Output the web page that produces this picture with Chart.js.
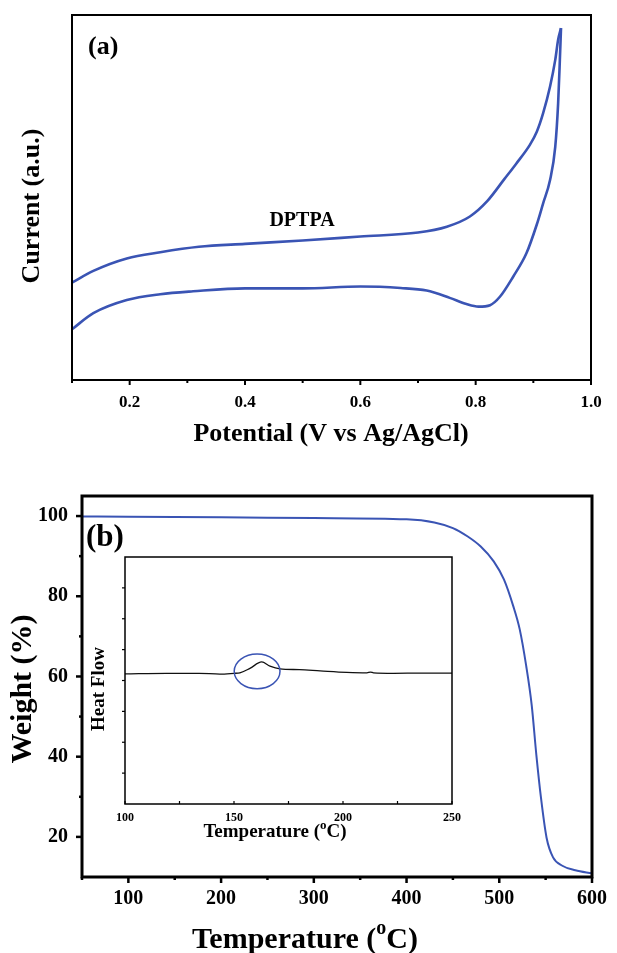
<!DOCTYPE html>
<html>
<head>
<meta charset="utf-8">
<script src="https://cdn.jsdelivr.net/npm/chart.js@4.4.0/dist/chart.umd.min.js"></script>
<style>
  html, body { margin: 0; padding: 0; background: #fff; }
  #page { position: relative; width: 617px; height: 953px; overflow: hidden; }
  .box { position: absolute; }
</style>
</head>
<body>
<div id="page">
  <div class="box" style="left:0;top:0;width:617px;height:460px"><canvas id="cv"></canvas></div>
  <div class="box" style="left:0;top:470px;width:617px;height:483px"><canvas id="tga"></canvas></div>
  <div class="box" style="left:80px;top:540px;width:390px;height:310px"><canvas id="dsc"></canvas></div>
</div>
<script>
'use strict';

const SERIF = '"Liberation Serif", "Times New Roman", serif';
const BLUE = '#3a54b4';

// (a) cyclic voltammogram, current in arbitrary units
const cvForwardV = [0.1, 0.137, 0.195, 0.253, 0.32, 0.4, 0.5, 0.6, 0.7, 0.75, 0.79, 0.82, 0.85, 0.87, 0.894, 0.906, 0.917, 0.929, 0.938, 0.943, 0.948];
const cvForwardI = [26.7, 29.9, 33.3, 35.0, 36.5, 37.3, 38.2, 39.3, 40.4, 42.0, 44.8, 49.0, 55.1, 59.2, 64.4, 68.0, 73.1, 80.4, 87.7, 93.2, 96.4];
const cvReverseV = [0.948, 0.946, 0.943, 0.938, 0.929, 0.917, 0.906, 0.888, 0.865, 0.842, 0.825, 0.805, 0.784, 0.755, 0.715, 0.67, 0.6, 0.5, 0.4, 0.31, 0.253, 0.195, 0.137, 0.1];
const cvReverseI = [96.4, 87.7, 75.8, 63.9, 54.8, 48.4, 42.6, 34.7, 28.3, 22.8, 20.5, 20.1, 20.8, 22.5, 24.5, 25.2, 25.6, 25.1, 25.1, 24.3, 23.5, 21.9, 18.3, 13.9];

// (b) TGA weight loss
const tgaTemp = [50, 100, 200, 300, 400, 430, 450, 466, 480, 494, 505, 515, 522, 529, 535, 540, 545, 551, 558, 568, 582, 600];
const tgaWeight = [99.9, 99.8, 99.7, 99.5, 99.2, 98.4, 97.0, 94.9, 92.4, 88.7, 84.2, 77.6, 71.8, 62.7, 52.8, 40.4, 29.7, 19.8, 14.9, 12.8, 11.7, 10.9];

// inset: DSC heat flow (arbitrary units)
const dscTemp = [100, 119, 134, 143.5, 150, 152.7, 157.3, 162.7, 166.5, 171.1, 180, 189.5, 201.7, 211, 212.6, 214, 223.2, 236, 250];
const dscFlow = [52.7, 52.9, 52.9, 52.6, 52.9, 53.1, 54.9, 57.5, 55.8, 54.7, 54.4, 53.9, 53.3, 53.1, 53.4, 53.1, 52.9, 53.0, 53.0];
// circled transition
const dscMark = { t: 160.6, v: 53.7, dt: 10.5, dv: 7.0 };

const pts = (xs, ys) => xs.map((x, i) => ({ x: x, y: ys[i] }));

function drawText(ctx, item) {
  const size = item.size;
  const parts = Array.isArray(item.text) ? item.text : [{ t: item.text }];
  const fontFor = p => 'bold ' + (p.sup ? Math.round(size * 0.68) : size) + 'px ' + SERIF;
  ctx.save();
  ctx.translate(item.x, item.y);
  if (item.rotate) ctx.rotate(item.rotate * Math.PI / 180);
  ctx.fillStyle = '#000';
  ctx.textBaseline = 'middle';
  ctx.textAlign = 'left';
  let total = 0;
  parts.forEach(p => { ctx.font = fontFor(p); total += ctx.measureText(p.t).width; });
  let x = item.align === 'left' ? 0 : -total / 2;
  parts.forEach(p => {
    ctx.font = fontFor(p);
    ctx.fillText(p.t, x, p.sup ? -size * 0.36 : 0);
    x += ctx.measureText(p.t).width;
  });
  ctx.restore();
}

// box around the plot, tick marks (long where a label is shown) and free text
const frame = {
  id: 'frame',
  afterDatasetsDraw(chart, args, o) {
    const { ctx, chartArea: a } = chart;
    ctx.save();
    ctx.strokeStyle = '#000';
    ctx.lineWidth = o.width;
    ctx.strokeRect(a.left, a.top, a.right - a.left, a.bottom - a.top);
    ctx.lineWidth = o.tickWidth;
    Object.keys(o.ticks || {}).forEach(id => {
      const s = chart.scales[id];
      const t = o.ticks[id];
      s.ticks.forEach(tk => {
        if (t.skipEnds && (tk.value <= s.min || tk.value >= s.max)) return;
        const len = (tk.label !== '' ? t.major : t.minor) * (t.inward ? -1 : 1);
        const p = s.getPixelForValue(tk.value);
        ctx.beginPath();
        if (s.isHorizontal()) {
          ctx.moveTo(p, a.bottom);
          ctx.lineTo(p, a.bottom + len);
        } else {
          ctx.moveTo(a.left, p);
          ctx.lineTo(a.left - len, p);
        }
        ctx.stroke();
      });
    });
    if (o.ring) {
      const x = chart.scales.x, y = chart.scales.y, r = o.ring;
      const cx = x.getPixelForValue(r.t), cy = y.getPixelForValue(r.v);
      ctx.strokeStyle = BLUE;
      ctx.lineWidth = 1.5;
      ctx.beginPath();
      ctx.ellipse(cx, cy,
        Math.abs(x.getPixelForValue(r.t + r.dt) - cx),
        Math.abs(y.getPixelForValue(r.v + r.dv) - cy), 0, 0, Math.PI * 2);
      ctx.stroke();
    }
    (o.labels || []).forEach(item => drawText(ctx, item));
    ctx.restore();
  }
};

const tickFont = size => ({ family: SERIF, size: size, weight: 'bold' });
const bare = { grid: { display: false, drawTicks: false }, border: { display: false } };

function baseOptions(padding) {
  return {
    responsive: true,
    maintainAspectRatio: false,
    animation: false,
    devicePixelRatio: 1,
    layout: { padding: padding },
    plugins: { legend: { display: false }, tooltip: { enabled: false } },
    elements: { point: { radius: 0 } }
  };
}

// (a) CV
const cvOpts = baseOptions({ left: 72, top: 15, right: 26, bottom: 0 });
cvOpts.scales = {
  x: Object.assign({
    type: 'linear', min: 0.1, max: 1.0,
    afterFit: s => { s.height = 80; },
    ticks: {
      stepSize: 0.1, autoSkip: false, maxRotation: 0, padding: 12, color: '#000', font: tickFont(17),
      callback: v => Math.round(v * 10) % 2 === 0 ? v.toFixed(1) : ''
    }
  }, bare),
  y: { display: false, min: 0, max: 100 }
};
cvOpts.plugins.frame = {
  width: 2, tickWidth: 2,
  ticks: { x: { major: 5, minor: 3 } },
  labels: [
    { text: '(a)', x: 88, y: 47, size: 26, align: 'left' },
    { text: 'DPTPA', x: 302, y: 221, size: 20 },
    { text: 'Current (a.u.)', x: 32, y: 206, size: 26, rotate: -90 },
    { text: 'Potential (V vs Ag/AgCl)', x: 331, y: 434, size: 26 }
  ]
};
new Chart(document.getElementById('cv'), {
  type: 'scatter',
  data: {
    datasets: [
      { data: pts(cvForwardV, cvForwardI), showLine: true, borderColor: BLUE, borderWidth: 2.6, cubicInterpolationMode: 'monotone' },
      { data: pts(cvReverseV, cvReverseI), showLine: true, borderColor: BLUE, borderWidth: 2.6, cubicInterpolationMode: 'monotone' }
    ]
  },
  options: cvOpts,
  plugins: [frame]
});

// (b) TGA
const tgaOpts = baseOptions({ left: 0, top: 23, right: 17, bottom: 0 });
tgaOpts.scales = {
  x: Object.assign({
    type: 'linear', min: 50, max: 600,
    afterFit: s => { s.height = 76; },
    ticks: {
      stepSize: 50, autoSkip: false, maxRotation: 0, padding: 10, color: '#000', font: tickFont(20),
      callback: v => v % 100 === 0 ? String(v) : ''
    }
  }, bare),
  y: Object.assign({
    type: 'linear', min: 10, max: 105,
    afterFit: s => { s.width = 82; },
    ticks: {
      stepSize: 10, includeBounds: false, autoSkip: false, padding: 14, color: '#000', font: tickFont(20),
      callback: v => v % 20 === 0 ? String(v) : ''
    }
  }, bare)
};
tgaOpts.plugins.frame = {
  width: 3, tickWidth: 2.5,
  ticks: { x: { major: 6, minor: 3 }, y: { major: 6, minor: 3, skipEnds: true } },
  labels: [
    { text: '(b)', x: 86, y: 68, size: 31, align: 'left' },
    { text: 'Weight (%)', x: 23, y: 219, size: 30, rotate: -90 },
    { text: [{ t: 'Temperature (' }, { t: 'o', sup: true }, { t: 'C)' }], x: 305, y: 470, size: 30 }
  ]
};
new Chart(document.getElementById('tga'), {
  type: 'scatter',
  data: {
    datasets: [
      { data: pts(tgaTemp, tgaWeight), showLine: true, borderColor: BLUE, borderWidth: 2, cubicInterpolationMode: 'monotone' }
    ]
  },
  options: tgaOpts,
  plugins: [frame]
});

// inset DSC
const dscOpts = baseOptions({ left: 45, top: 17, right: 18, bottom: 0 });
dscOpts.scales = {
  x: Object.assign({
    type: 'linear', min: 100, max: 250,
    afterFit: s => { s.height = 46; },
    ticks: {
      stepSize: 25, autoSkip: false, maxRotation: 0, padding: 7, color: '#000', font: tickFont(12),
      callback: v => v % 50 === 0 ? String(v) : ''
    }
  }, bare),
  y: Object.assign({
    type: 'linear', min: 0, max: 100,
    afterFit: s => { s.width = 0; },
    ticks: { stepSize: 12.5, display: false, callback: () => '' }
  }, bare)
};
dscOpts.plugins.frame = {
  width: 1.5, tickWidth: 1.2,
  ticks: { x: { major: 3, minor: 3, inward: true }, y: { major: 3, minor: 3, skipEnds: true } },
  ring: dscMark,
  labels: [
    { text: 'Heat Flow', x: 19, y: 149, size: 19, rotate: -90 },
    { text: [{ t: 'Temperature (' }, { t: 'o', sup: true }, { t: 'C)' }], x: 195, y: 292, size: 19 }
  ]
};
new Chart(document.getElementById('dsc'), {
  type: 'scatter',
  data: {
    datasets: [
      { data: pts(dscTemp, dscFlow), showLine: true, borderColor: '#111', borderWidth: 1.3, cubicInterpolationMode: 'monotone' }
    ]
  },
  options: dscOpts,
  plugins: [frame]
});
</script>
</body>
</html>
